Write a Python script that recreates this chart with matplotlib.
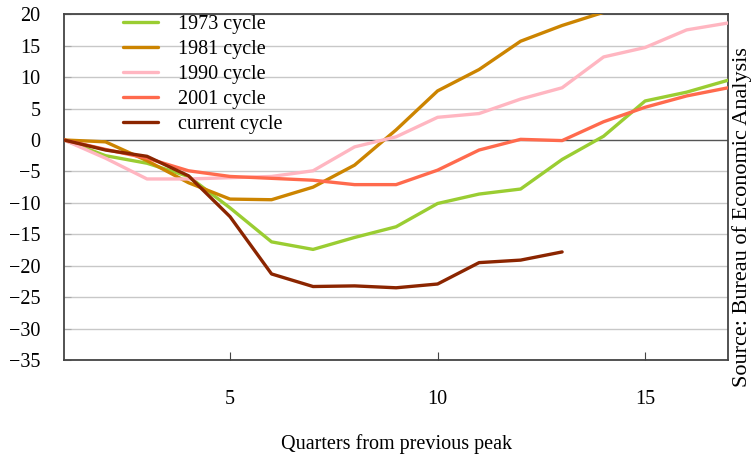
import numpy as np
import matplotlib.pyplot as plt

plt.rcParams['font.family'] = ['Liberation Serif', 'DejaVu Serif']
plt.rcParams['ytick.major.pad'] = 17
plt.rcParams['ytick.direction'] = 'in'
plt.rcParams['ytick.major.size'] = 5
plt.rcParams['xtick.major.pad'] = 21.5
plt.rcParams['xtick.direction'] = 'in'
plt.rcParams['xtick.major.size'] = 6

############################### Datos ###############################
quarters = list(range(1, 18))

c1973    = [0, -2.5, -3.7, -5.8, -10.8, -16.2, -17.4, -15.5, -13.8, -10.1, -8.6, -7.8, -3.1, 0.6, 6.2, 7.6, 9.5]
c1981    = [0, -0.3, -3.3, -6.8, -9.4, -9.5, -7.5, -4.0, 1.6, 7.8, 11.2, 15.7, 18.2, 20.3]
c1990    = [0, -2.9, -6.2, -6.2, -6.0, -5.8, -4.9, -1.1, 0.5, 3.6, 4.2, 6.5, 8.3, 13.2, 14.7, 17.5, 18.6]
c2001    = [0, -1.5, -2.9, -4.9, -5.8, -6.1, -6.4, -7.1, -7.1, -4.8, -1.6, 0.1, -0.1, 2.9, 5.2, 7.0, 8.3]
current  = [0, -1.6, -2.6, -5.7, -12.2, -21.3, -23.3, -23.2, -23.5, -22.9, -19.5, -19.1, -17.8]

series = [("1973 cycle", c1973, "#9acd32"),
          ("1981 cycle", c1981, "#cc8400"),
          ("1990 cycle", c1990, "#ffb6c1"),
          ("2001 cycle", c2001, "#ff6a4d"),
          ("current cycle", current, "#8b2500")]

xticks = [5, 10, 15]
yticks = list(range(-35, 25, 5))

############################### Gráfica ###############################
fig = plt.figure(figsize=(7.53, 4.57), dpi=100)
ax = fig.add_axes([0.085, 0.212, 0.882, 0.757])

for lab, vals, col in series:
    ax.plot(quarters[:len(vals)], vals, color=col, linewidth=2.4, label=lab,
            solid_capstyle='round', zorder=3)

ax.set_xlim(1, 17)
ax.set_ylim(-35, 20)
ax.set_xticks(xticks)
ax.set_yticks(yticks)
ax.set_yticklabels([str(v).replace('-', '\u2212') for v in yticks])
ax.tick_params(axis='x', labelsize=14.5, color='#444444')
ax.tick_params(axis='y', labelsize=14.5, color='#aaaaaa')

### Grilla horizontal, la línea del cero más oscura
for v in yticks:
    if v == 0:
        ax.axhline(v, color='#555555', linewidth=1.0, zorder=1)
    else:
        ax.axhline(v, color='#c8c8c8', linewidth=1.0, zorder=1)

for s in ax.spines.values():
    s.set_color('#444444')
    s.set_linewidth(1.3)

ax.set_xlabel('Quarters from previous peak', fontsize=14.5, labelpad=18)

leg = ax.legend(loc='upper left', bbox_to_anchor=(0.062, 1.051), frameon=False,
                fontsize=14.5, handlelength=1.7, handletextpad=1.0,
                labelspacing=0.3)

fig.text(0.985, 0.525, 'Source: Bureau of Economic Analysis', rotation=90,
         ha='center', va='center', fontsize=16)

plt.savefig('out.png', dpi=100)
